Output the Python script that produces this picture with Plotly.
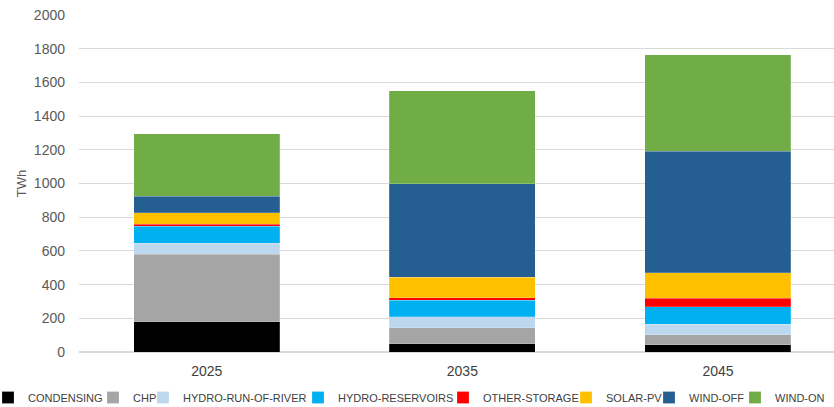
import plotly.graph_objects as go

years = ["2025", "2035", "2045"]
series_names = ["CONDENSING", "CHP", "HYDRO-RUN-OF-RIVER", "HYDRO-RESERVOIRS",
                "OTHER-STORAGE", "SOLAR-PV", "WIND-OFF", "WIND-ON"]
condensing = [180, 48, 42]
chp = [400, 95, 61]
hydro_ror = [65, 65, 63]
hydro_res = [102, 100, 102]
other_storage = [10, 15, 52]
solar_pv = [69, 121, 149]
wind_off = [98, 556, 721]
wind_on = [370, 550, 575]
y_ticks = [0, 200, 400, 600, 800, 1000, 1200, 1400, 1600, 1800, 2000]

values = [condensing, chp, hydro_ror, hydro_res, other_storage, solar_pv, wind_off, wind_on]
colors = ["#000000", "#a5a5a5", "#bdd7ee", "#00b0f0", "#ff0000", "#ffc000", "#255e91", "#70ad47"]

# legend text start pixel positions (layout only)
legend_text_px = [28, 133, 183, 338, 483, 606, 689, 775]

L, R, T, B, W, H = 79, 0, 15, 55, 834, 407
plot_w = W - L - R
plot_h = H - T - B

fig = go.Figure()
legends = {}
for i, (name, vals, col) in enumerate(zip(series_names, values, colors)):
    lname = "legend" if i == 0 else f"legend{i+1}"
    fig.add_trace(go.Bar(x=years, y=vals, name=name, legend=lname,
                         marker=dict(color=col, line=dict(color="rgba(255,255,255,0.4)", width=0.5))))
    xp = (legend_text_px[i] - 40 - L) / plot_w
    yp = -(397.5 - (T + plot_h)) / plot_h
    legends[lname] = dict(orientation="h", x=xp, xanchor="left", y=yp, yanchor="middle",
                          font=dict(family="Liberation Sans, Arial, sans-serif", size=11, color="#404040"),
                          itemwidth=30, bgcolor="rgba(0,0,0,0)", borderwidth=0)

fig.update_layout(
    width=W, height=H,
    barmode="stack", bargap=0.429,
    plot_bgcolor="white", paper_bgcolor="white",
    margin=dict(l=L, r=R, t=T, b=B, autoexpand=False),
    font=dict(family="Liberation Sans, Arial, sans-serif", color="#595959"),
    xaxis=dict(type="category", range=[-0.5, 2.454], showgrid=False, showline=False,
               ticks="", ticklabelstandoff=9, automargin=False,
               tickfont=dict(size=14, color="#404040")),
    yaxis=dict(range=[0, 2000], tickvals=y_ticks, showgrid=True, gridcolor="#d9d9d9",
               gridwidth=1, zeroline=True, zerolinecolor="#d9d9d9", ticks="",
               ticklabelstandoff=13, automargin=False,
               tickfont=dict(size=14, color="#595959"),
               title=dict(text="TWh", font=dict(size=13, color="#595959"), standoff=4)),
    showlegend=True,
    **legends,
)
fig.write_html("out.html")
